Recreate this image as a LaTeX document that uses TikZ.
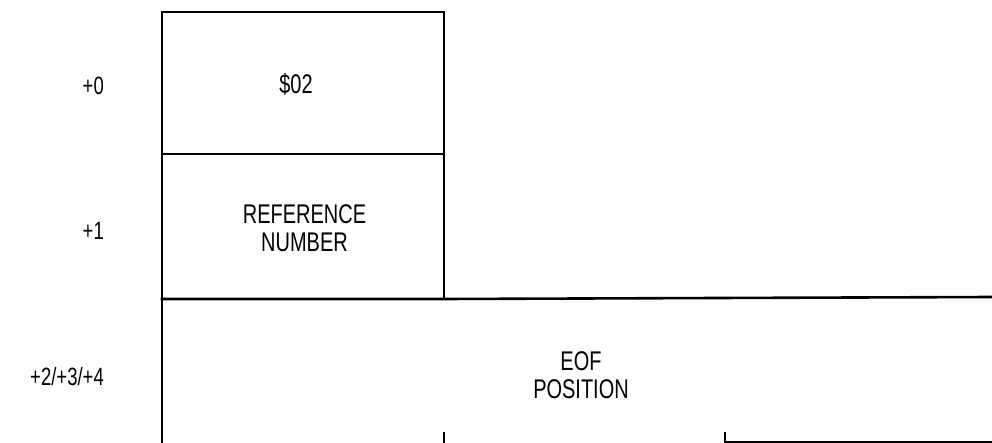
\documentclass[tikz,border=0pt]{standalone}
\usepackage{fontspec}
\setmainfont{Liberation Sans}[FakeStretch=0.74]
\begin{document}
\begin{tikzpicture}[x=1pt,y=-1pt,
  frame/.style={line width=2.6pt,line cap=rect},
  lbl/.style={font=\fontsize{27}{28.5}\selectfont,inner sep=0pt,align=center},
  offs/.style={font=\fontsize{25}{28}\selectfont,inner sep=0pt,anchor=east}]
\useasboundingbox (0,0) rectangle (992,443);
% corners
\coordinate (tl) at (162,12);
\coordinate (tr) at (444,12);
\coordinate (ml) at (162,154);
\coordinate (mr) at (444,154);
\coordinate (bl) at (162,299);
\coordinate (br) at (444,299);
\coordinate (er) at (992,297);
\coordinate (ll) at (162,443);
\coordinate (t1a) at (444,433);
\coordinate (t1b) at (444,443);
\coordinate (t2a) at (725,433);
\coordinate (t2b) at (725,442);
\coordinate (t2c) at (992,442);
\draw[frame] (ml) -- (tl) -- (tr) -- (mr);
\draw[frame] (ml) -- (mr);
\draw[frame] (ml) -- (bl);
\draw[frame] (mr) -- (br);
\draw[frame] (bl) -- (br) -- (er);
\draw[frame] (bl) -- (ll);
\draw[frame] (t1a) -- (t1b);
\draw[frame] (t2a) -- (t2b) -- (t2c);
% texts
\node[lbl] (s02) at (296,84) {\$02};
\node[lbl] (ref) at (304.5,228) {REFERENCE\\NUMBER};
\node[lbl] (eof) at (581,375) {EOF\\POSITION};
\node[offs] (o0) at (104,86) {+0};
\node[offs] (o1) at (104,231) {+1};
\node[offs] (o2) at (104,377) {+2/+3/+4};
\end{tikzpicture}
\end{document}
